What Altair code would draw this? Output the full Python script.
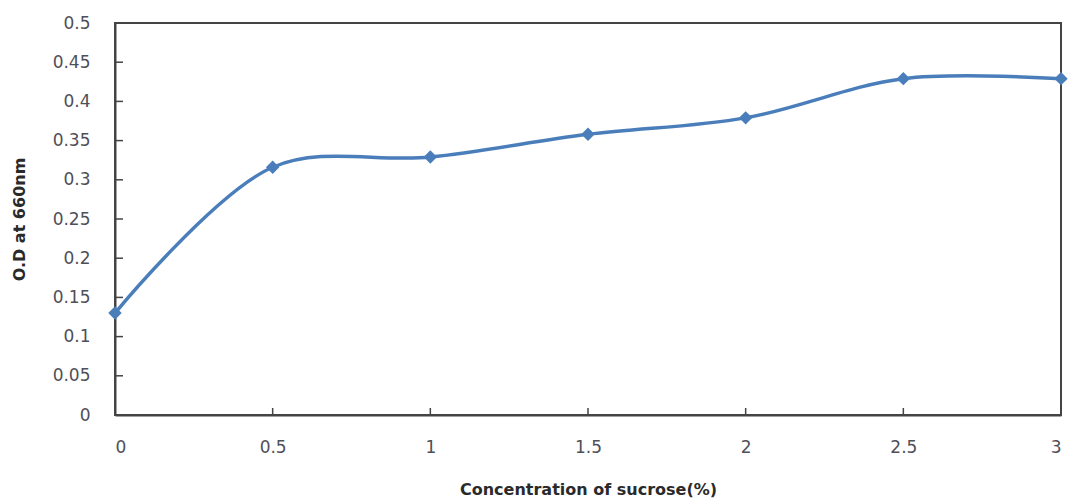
import altair as alt
import pandas as pd

conc = [0, 0.5, 1, 1.5, 2, 2.5, 3]
od = [0.13, 0.316, 0.329, 0.358, 0.379, 0.429, 0.429]

y_ticks = [0.05, 0.1, 0.15, 0.2, 0.25, 0.3, 0.35, 0.4, 0.45]
x_ticks = [0.5, 1, 1.5, 2, 2.5]

df = pd.DataFrame({"conc": conc, "od": od})
ydf = pd.DataFrame({"v": y_ticks})
xdf = pd.DataFrame({"v": x_ticks})

FONT = "DejaVu Sans"
AXC = "#444444"
BLUE = "#4A7EBB"

xscale = alt.Scale(domain=[0, 3], nice=False, zero=False)
yscale = alt.Scale(domain=[0, 0.5], nice=False)

x_axis = alt.Axis(
    values=[0, 0.5, 1, 1.5, 2, 2.5, 3], format="~g",
    title="Concentration of sucrose(%)", titlePadding=26, labelPadding=24,
)
y_axis = alt.Axis(
    values=[0, 0.05, 0.1, 0.15, 0.2, 0.25, 0.3, 0.35, 0.4, 0.45, 0.5], format="~g",
    title="O.D at 660nm", titlePadding=25, labelPadding=25,
)

base = alt.Chart(df)
line = base.mark_line(color=BLUE, strokeWidth=3.5, interpolate="catmull-rom").encode(
    x=alt.X("conc:Q", scale=xscale, axis=x_axis),
    y=alt.Y("od:Q", scale=yscale, axis=y_axis),
)
pts = base.mark_point(shape="diamond", filled=True, size=180, color=BLUE, opacity=1).encode(
    x=alt.X("conc:Q", scale=xscale, axis=x_axis),
    y=alt.Y("od:Q", scale=yscale, axis=y_axis),
)
yt = alt.Chart(ydf).mark_rule(color=AXC, strokeWidth=1.5).encode(
    y=alt.Y("v:Q", scale=yscale, axis=y_axis), x=alt.value(0), x2=alt.value(8)
)
xt = alt.Chart(xdf).mark_rule(color=AXC, strokeWidth=1.5).encode(
    x=alt.X("v:Q", scale=xscale, axis=x_axis), y=alt.value(392), y2=alt.value(385)
)

chart = alt.layer(line, pts, yt, xt).properties(
    width=946, height=392,
    background="white",
    autosize=alt.AutoSizeParams(type="none"),
    padding={"left": 115, "top": 23, "right": 7, "bottom": 88},
).configure_view(stroke=AXC, strokeWidth=2).configure_axis(
    grid=False, tickSize=0, labelFontSize=17, labelColor="#4f4f58", labelFont=FONT,
    labelOverlap=False, titleFont=FONT, titleFontSize=16, titleFontWeight="bold",
    titleColor="#2a2a2a", domainColor=AXC, domainWidth=2,
)

chart.save("out.html", embed_options={"renderer": "svg", "actions": False})
